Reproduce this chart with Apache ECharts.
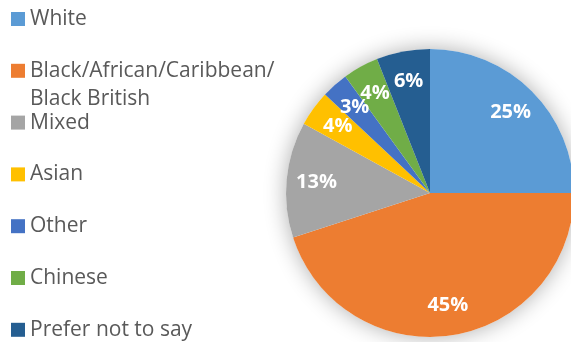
<!DOCTYPE html>
<html>
<head>
<meta charset="utf-8">
<script src="https://cdn.jsdelivr.net/npm/echarts@6/dist/echarts.min.js"></script>
<style>
  html, body { margin: 0; padding: 0; background: #fff; }
  #chart { width: 571px; height: 342px; }
</style>
</head>
<body>
<div id="chart"></div>
<script>
// Survey respondents by ethnicity (percent of total)
const categories = [
  'White',
  'Black/African/Caribbean/Black British',
  'Mixed',
  'Asian',
  'Other',
  'Chinese',
  'Prefer not to say'
];
const legendLabels = [
  'White',
  'Black/African/Caribbean/\nBlack British',
  'Mixed',
  'Asian',
  'Other',
  'Chinese',
  'Prefer not to say'
];
const percentages = [25, 45, 13, 4, 3, 4, 6];
const palette = ['#5B9BD5', '#ED7D31', '#A5A5A5', '#FFC000', '#4472C4', '#70AD47', '#255E91'];

const CENTER = [430, 193];
const RADIUS = 144;
const FONT = '"Open Sans", "Noto Sans", sans-serif';

const pieData = categories.map((name, i) => ({
  name: name,
  value: percentages[i],
  itemStyle: { color: palette[i] }
}));

// Legend: one vertical stack of entries, evenly spaced, marker aligned with the first text line
const LEGEND_FIRST = 19;
const LEGEND_STEP = 51.8;
const LINE_H = 28;
const legends = categories.map((name, i) => {
  const lines = legendLabels[i].split('\n');
  const pad = lines.length - 1;
  const text = '\n'.repeat(pad) + legendLabels[i];
  const totalLines = lines.length + pad;
  const centerY = LEGEND_FIRST + i * LEGEND_STEP;
  return {
    show: true,
    orient: 'vertical',
    left: 11,
    top: centerY - totalLines * LINE_H / 2,
    padding: 0,
    itemWidth: 14,
    itemHeight: 14,
    icon: 'rect',
    selectedMode: false,
    data: [name],
    formatter: () => text,
    textStyle: {
      fontFamily: FONT,
      fontSize: 21,
      color: '#595959',
      lineHeight: LINE_H
    }
  };
});

const chart = echarts.init(document.getElementById('chart'), null, { renderer: 'canvas' });
chart.setOption({
  backgroundColor: '#ffffff',
  animation: false,
  legend: legends,
  series: [
    {
      // soft drop shadow behind the whole pie
      type: 'pie',
      name: 'shadow',
      silent: true,
      center: CENTER,
      radius: RADIUS,
      z: 1,
      label: { show: false },
      labelLine: { show: false },
      itemStyle: {
        color: '#ffffff',
        shadowBlur: 22,
        shadowColor: 'rgba(0,0,0,0.32)'
      },
      data: [{ value: 1, name: '' }]
    },
    {
      type: 'pie',
      name: 'Ethnicity',
      center: CENTER,
      radius: RADIUS,
      startAngle: 90,
      clockwise: true,
      z: 2,
      label: { show: false },
      labelLine: { show: false },
      itemStyle: { borderWidth: 0 },
      emphasis: { disabled: true },
      data: pieData
    },
    {
      // percentage labels placed about 3/4 of the way out
      type: 'pie',
      name: 'Ethnicity labels',
      silent: true,
      center: CENTER,
      radius: [76, RADIUS + 2],
      startAngle: 90,
      clockwise: true,
      z: 3,
      avoidLabelOverlap: false,
      minShowLabelAngle: 0,
      labelLayout: { hideOverlap: false },
      itemStyle: { color: 'rgba(0,0,0,0)' },
      emphasis: { disabled: true },
      label: {
        show: true,
        position: 'inside',
        formatter: p => p.value + '%',
        fontFamily: FONT,
        fontWeight: 'bold',
        fontSize: 20,
        color: '#ffffff'
      },
      labelLine: { show: false },
      data: categories.map((name, i) => ({ name: name, value: percentages[i] }))
    }
  ]
});
</script>
</body>
</html>
